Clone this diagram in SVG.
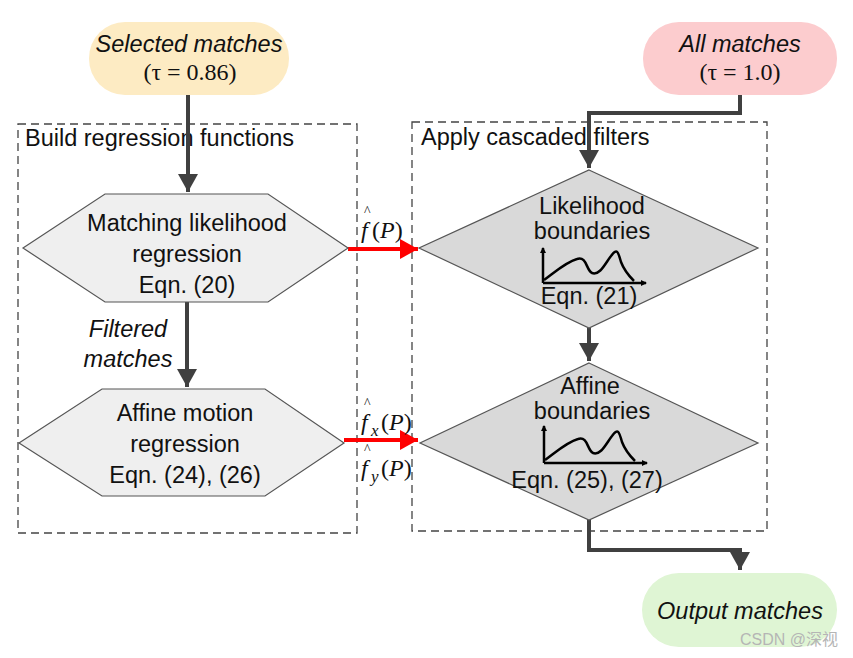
<svg xmlns="http://www.w3.org/2000/svg" width="853" height="658" viewBox="0 0 853 658">
<style>
.lbl{font-family:"Liberation Sans",Arial,sans-serif;font-size:23.5px;fill:#111}
.it{font-style:italic}
.math{font-family:"Liberation Serif","Times New Roman",serif;font-size:24px;fill:#111}
.box{fill:none;stroke:#444;stroke-width:1.3;stroke-dasharray:8,5}
.hex{fill:#efefef;stroke:#555;stroke-width:1.2}
.dia{fill:#d9d9d9;stroke:#555;stroke-width:1.2}
.flow{fill:none;stroke:#404040;stroke-width:4}
.red{fill:none;stroke:#f00;stroke-width:4}
.chart{fill:none;stroke:#000;stroke-width:2.5}
</style>
<defs>
<marker id="ah" markerWidth="5" markerHeight="5" refX="4.5" refY="2.5" orient="auto" markerUnits="strokeWidth"><path d="M0,0 L4.5,2.5 L0,5 Z" fill="#404040"/></marker>
<marker id="ahr" markerWidth="5" markerHeight="5" refX="4.5" refY="2.5" orient="auto" markerUnits="strokeWidth"><path d="M0,0 L4.5,2.5 L0,5 Z" fill="#f00"/></marker>
<marker id="ca" markerWidth="6" markerHeight="6" refX="5" refY="3" orient="auto" markerUnits="userSpaceOnUse"><path d="M0,0 L6,3 L0,6 Z" fill="#000"/></marker>
</defs>
<rect width="853" height="658" fill="#fff"/>

<g id="containers">
<rect class="box" x="18" y="124" width="339" height="409"/>
<text class="lbl" x="25" y="146">Build regression functions</text>
<rect class="box" x="412" y="122" width="355" height="409"/>
<text class="lbl" x="421" y="145">Apply cascaded filters</text>
</g>

<g id="connectors">
<path class="flow" d="M188,95 V192" marker-end="url(#ah)"/>
<path class="flow" d="M187,302 V387" marker-end="url(#ah)"/>
<path class="flow" d="M740,95 V113 H589 V168" marker-end="url(#ah)"/>
<path class="flow" d="M589,328 V361" marker-end="url(#ah)"/>
<path class="flow" d="M589,520 V550 H740 V570" marker-end="url(#ah)"/>
<path class="red" d="M348,249 H418" marker-end="url(#ahr)"/>
<path class="red" d="M344,440 H418" marker-end="url(#ahr)"/>
<text class="lbl it" x="128" y="337" text-anchor="middle">Filtered</text>
<text class="lbl it" x="128" y="367" text-anchor="middle">matches</text>
<g class="math" font-size="25">
<text x="361" y="238" font-style="italic">f</text>
<text x="364" y="216" font-size="14">^</text>
<text x="372" y="238">(<tspan font-style="italic">P</tspan>)</text>
<text x="361" y="430" font-style="italic">f</text>
<text x="364" y="408" font-size="14">^</text>
<text x="371" y="436" font-style="italic" font-size="17">x</text>
<text x="381" y="430">(<tspan font-style="italic">P</tspan>)</text>
<text x="361" y="476" font-style="italic">f</text>
<text x="364" y="454" font-size="14">^</text>
<text x="371" y="482" font-style="italic" font-size="17">y</text>
<text x="381" y="476">(<tspan font-style="italic">P</tspan>)</text>
</g>
</g>

<g id="selected">
<rect x="89" y="22" width="200" height="73" rx="36" fill="#fdebc3"/>
<text class="lbl it" x="189" y="52" text-anchor="middle">Selected matches</text>
<text class="math" x="190" y="80" text-anchor="middle">(τ = 0.86)</text>
</g>

<g id="all">
<rect x="643" y="22" width="194" height="73" rx="36" fill="#fcccce"/>
<text class="lbl it" x="740" y="52" text-anchor="middle">All matches</text>
<text class="math" x="740" y="80" text-anchor="middle">(τ = 1.0)</text>
</g>

<g id="hex1">
<polygon class="hex" points="23,248 105,194 268,194 348,248 268,302 105,302"/>
<text class="lbl" x="187" y="231" text-anchor="middle">Matching likelihood</text>
<text class="lbl" x="187" y="262" text-anchor="middle">regression</text>
<text class="lbl" x="187" y="293" text-anchor="middle">Eqn. (20)</text>
</g>

<g id="hex2">
<polygon class="hex" points="19,443 102,389 265,389 344,443 265,496 102,496"/>
<text class="lbl" x="185" y="421" text-anchor="middle">Affine motion</text>
<text class="lbl" x="185" y="452" text-anchor="middle">regression</text>
<text class="lbl" x="185" y="483" text-anchor="middle">Eqn. (24), (26)</text>
</g>

<g id="diamond1">
<polygon class="dia" points="589,170 758,248 589,328 419,248"/>
<text class="lbl" x="592" y="214" text-anchor="middle">Likelihood</text>
<text class="lbl" x="592" y="239" text-anchor="middle">boundaries</text>
<path class="chart" d="M543,283 V248" marker-end="url(#ca)"/>
<path class="chart" d="M543,283 H646" marker-end="url(#ca)"/>
<path class="chart" d="M544,280 C555,272 566,262 577,259 C587,256 586,270 592,273 C600,276 606,262 611,256 C617,248 618,251 621,262 C624,270 630,277 634,281"/>
<text class="lbl" x="589" y="304" text-anchor="middle">Eqn. (21)</text>
</g>

<g id="diamond2">
<polygon class="dia" points="589,363 758,443 589,520 420,443"/>
<text class="lbl" x="590" y="394" text-anchor="middle">Affine</text>
<text class="lbl" x="592" y="419" text-anchor="middle">boundaries</text>
<path class="chart" d="M544,463 V426" marker-end="url(#ca)"/>
<path class="chart" d="M544,463 H647" marker-end="url(#ca)"/>
<path class="chart" d="M545,460 C556,452 567,442 578,439 C588,436 587,450 593,453 C601,456 607,442 612,436 C618,428 619,431 622,442 C625,450 631,457 635,461"/>
<text class="lbl" x="587" y="488" text-anchor="middle">Eqn. (25), (27)</text>
</g>

<g id="output">
<rect x="642" y="573" width="195" height="74" rx="37" fill="#dff5d4"/>
<text class="lbl it" x="740" y="619" text-anchor="middle">Output matches</text>
</g>

<text x="838" y="645" text-anchor="end" font-family="'Liberation Sans','Noto Sans CJK SC',sans-serif" font-size="16" fill="#b5b5b5">CSDN @深视</text>
</svg>
